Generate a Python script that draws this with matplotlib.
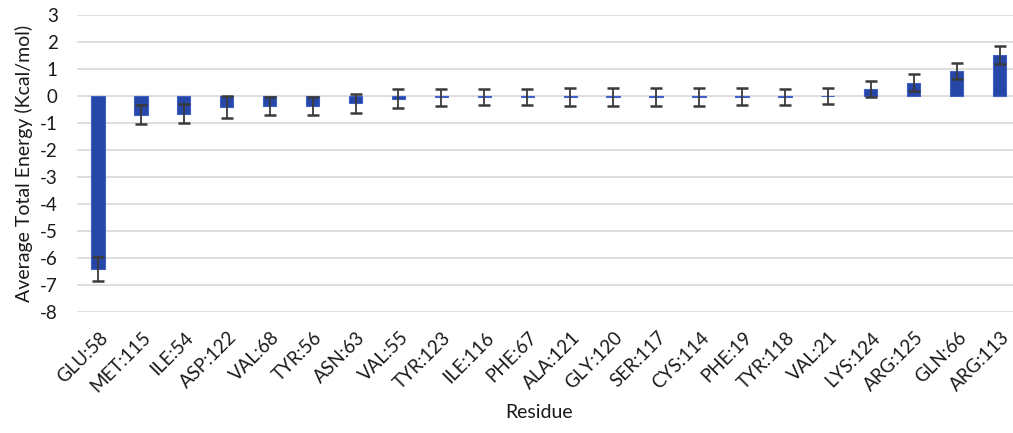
import matplotlib
matplotlib.use("Agg")
import matplotlib.pyplot as plt
import numpy as np

residues = ["GLU:58", "MET:115", "ILE:54", "ASP:122", "VAL:68", "TYR:56", "ASN:63",
            "VAL:55", "TYR:123", "ILE:116", "PHE:67", "ALA:121", "GLY:120", "SER:117",
            "CYS:114", "PHE:19", "TYR:118", "VAL:21", "LYS:124", "ARG:125", "GLN:66", "ARG:113"]
energy = [-6.4, -0.7, -0.65, -0.4, -0.37, -0.37, -0.27,
          -0.1, -0.05, -0.05, -0.05, -0.04, -0.04, -0.04,
          -0.04, -0.03, -0.03, 0.0, 0.25, 0.5, 0.92, 1.52]
error = [0.45, 0.35, 0.35, 0.4, 0.33, 0.35, 0.35,
         0.35, 0.32, 0.3, 0.3, 0.33, 0.33, 0.33,
         0.33, 0.32, 0.3, 0.3, 0.3, 0.3, 0.3, 0.33]
yticks = list(range(-8, 4))

plt.rcParams['font.family'] = ['Lato', 'DejaVu Sans']

fig = plt.figure(figsize=(10.13, 4.33), dpi=100)
W, H = 1013, 433
ax = fig.add_axes([76.5 / W, (H - 312) / H, 944.5 / W, (312 - 15) / H])

x = np.arange(len(residues))
ax.bar(x, energy, width=0.31, color='#2747A8', edgecolor='#3F61C8', linewidth=0.8, zorder=2)
ax.errorbar(x, energy, yerr=error, fmt='none', ecolor='#3A3A3A', elinewidth=1.3,
            capsize=4.5, capthick=1.8, zorder=3)

ax.set_xlim(-0.5, len(residues) - 0.5)
ax.set_ylim(-8, 3)
ax.set_yticks(yticks)
ax.set_yticklabels([str(t) for t in yticks], fontsize=13.5, color='#1a1a1a')
ax.yaxis.grid(True, color='#D9D9D9', linewidth=1.2, zorder=0)
ax.set_axisbelow(True)
for s in ax.spines.values():
    s.set_visible(False)
ax.tick_params(axis='both', length=0)
ax.tick_params(axis='y', pad=13.5)

ax.set_xticks(x)
ax.set_xticklabels([])
for i, lab in enumerate(residues):
    ax.text(i + 0.02, -8.62, lab, rotation=45, ha='right', va='top', fontsize=13.5,
            rotation_mode='anchor', color='#1a1a1a')

ax.set_ylabel("Average Total Energy (Kcal/mol)", fontsize=14, labelpad=5, color='#1a1a1a')
fig.text(539 / W, 1 - 413 / H, "Residue", ha='center', va='center', fontsize=14, color='#1a1a1a')

fig.savefig("out.png", dpi=100)
